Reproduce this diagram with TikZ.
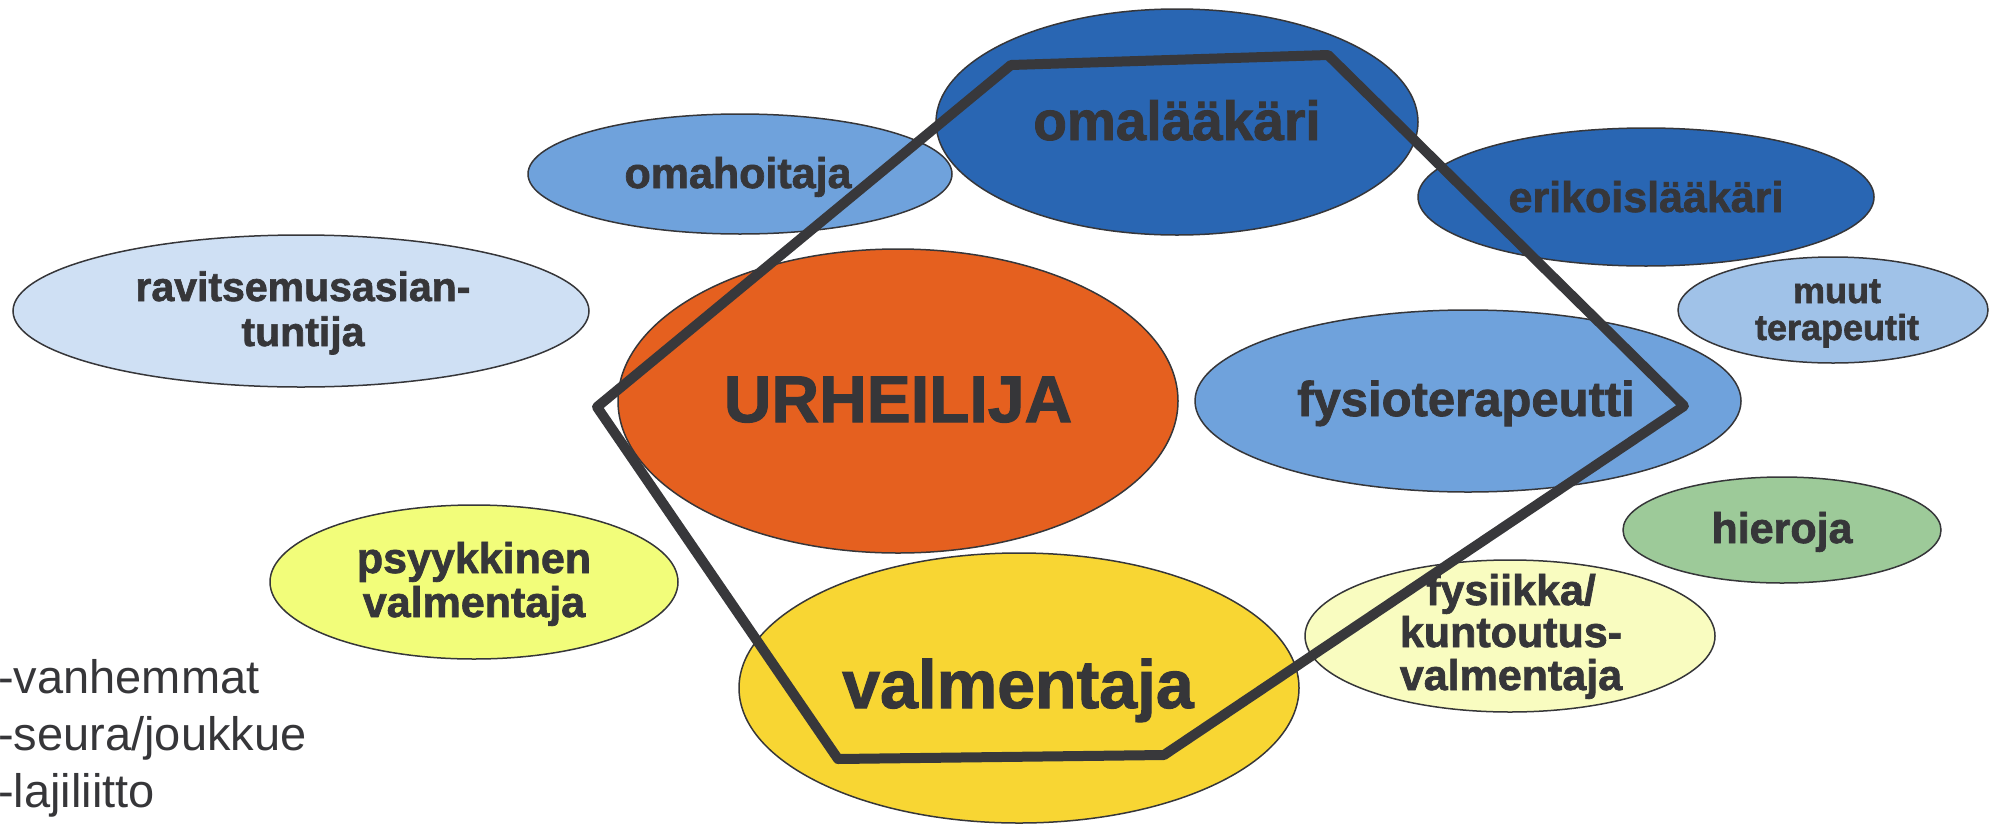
\documentclass[tikz,border=0pt]{standalone}
\usepackage{fontspec}
\setmainfont{Liberation Sans}
\newfontfamily\heavy{Liberation Sans Bold}[FakeBold=1.6]
\usetikzlibrary{shapes.geometric}
\definecolor{darkblue}{HTML}{2966B3}
\definecolor{midblue}{HTML}{6FA2DC}
\definecolor{paleblue}{HTML}{A0C2E8}
\definecolor{vpaleblue}{HTML}{CFE0F4}
\definecolor{orng}{HTML}{E5601F}
\definecolor{grn}{HTML}{9DCA99}
\definecolor{ylgreen}{HTML}{F2FD7A}
\definecolor{gold}{HTML}{F8D633}
\definecolor{paleyellow}{HTML}{F9FCC0}
\definecolor{txt}{HTML}{363639}
\definecolor{hexline}{HTML}{38383B}
\tikzset{
  blob/.style={ellipse, draw=txt, line width=1.5pt, inner sep=0pt},
  lbl/.style={anchor=base, inner sep=0pt, text=txt, font=\heavy\fontsize{#1}{#1}\selectfont},
  side/.style={anchor=base west, inner sep=0pt, text=txt, font=\fontsize{47}{47}\selectfont},
}
\begin{document}
\begin{tikzpicture}[x=1pt,y=-1pt]
\useasboundingbox (0,0) rectangle (1989,825);
% ellipses
\node[blob, fill=darkblue, minimum width=482, minimum height=226] (omal) at (1177,122) {};
\node[blob, fill=midblue, minimum width=424, minimum height=120] (omah) at (740,174) {};
\node[blob, fill=darkblue, minimum width=456, minimum height=138] (erik) at (1646,197) {};
\node[blob, fill=paleblue, minimum width=310, minimum height=106] (muut) at (1833,310) {};
\node[blob, fill=vpaleblue, minimum width=576, minimum height=152] (ravi) at (301,311) {};
\node[blob, fill=orng, minimum width=560, minimum height=304] (urh) at (898,401) {};
\node[blob, fill=midblue, minimum width=546, minimum height=182] (fysio) at (1468,401) {};
\node[blob, fill=grn, minimum width=318, minimum height=106] (hier) at (1782,530) {};
\node[blob, fill=ylgreen, minimum width=408, minimum height=154] (psyk) at (474,582) {};
\node[blob, fill=gold, minimum width=560, minimum height=270] (valm) at (1019,688) {};
\node[blob, fill=paleyellow, minimum width=410, minimum height=152] (fysi) at (1510,636) {};
% labels
\node[lbl=55] (t-omal) at (1177,140) {omalääkäri};
\node[lbl=43] (t-omah) at (738,188) {omahoitaja};
\node[lbl=43] (t-erik) at (1646,212) {erikoislääkäri};
\node[lbl=36] (t-muut1) at (1837,303) {muut};
\node[lbl=36] (t-muut2) at (1837,340) {terapeutit};
\node[lbl=41] (t-ravi1) at (303,301) {ravitsemusasian-};
\node[lbl=41] (t-ravi2) at (303,346) {tuntija};
\node[lbl=66] (t-urh) at (898,422) {URHEILIJA};
\node[lbl=49] (t-fysio) at (1466,416) {fysioterapeutti};
\node[lbl=43] (t-hier) at (1782,543) {hieroja};
\node[lbl=43] (t-psyk1) at (474,573) {psyykkinen};
\node[lbl=43] (t-psyk2) at (474,617) {valmentaja};
\node[lbl=68] (t-valm) at (1018,708) {valmentaja};
\node[lbl=43] (t-fysi1) at (1511,605) {fysiikka/};
\node[lbl=43] (t-fysi2) at (1511,647) {kuntoutus-};
\node[lbl=43] (t-fysi3) at (1511,690) {valmentaja};
% hexagon
\coordinate (h1) at (597,407);
\coordinate (h2) at (1011,65);
\coordinate (h3) at (1328,55);
\coordinate (h4) at (1684,406);
\coordinate (h5) at (1164,755);
\coordinate (h6) at (838,759);
\draw[hexline, line width=10pt, line join=round] (h1) -- (h2) -- (h3) -- (h4) -- (h5) -- (h6) -- cycle;
% side list
\node[side] (s1) at (-2,693) {-vanhemmat};
\node[side] (s2) at (-2,750) {-seura/joukkue};
\node[side] (s3) at (-2,807) {-lajiliitto};
\end{tikzpicture}
\end{document}
